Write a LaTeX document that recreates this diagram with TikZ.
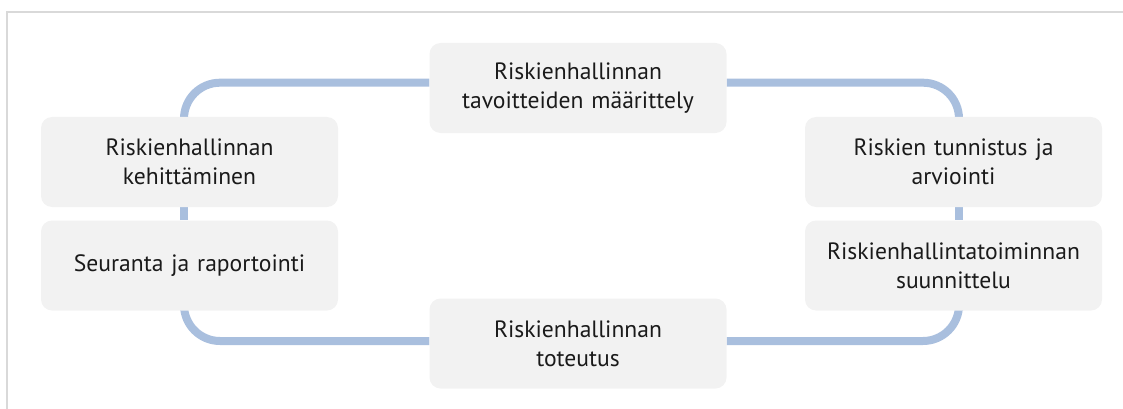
\documentclass[tikz,border=0pt]{standalone}
\usepackage{fontspec}
\setmainfont{PT Sans}
\usetikzlibrary{backgrounds}
\definecolor{boxfill}{HTML}{F2F2F2}
\definecolor{linecol}{HTML}{A9BFDE}
\definecolor{framecol}{HTML}{D9D9D9}
\definecolor{txt}{HTML}{1A1A1A}
\tikzset{
  stepbox/.style={rectangle, rounded corners=11pt, fill=boxfill, minimum width=297pt, minimum height=90pt, text width=290pt, align=center, inner sep=0pt, text=txt, font=\fontsize{23.6}{29}\selectfont},
  conn/.style={draw=linecol, line width=8pt, rounded corners=36pt},
  frame/.style={draw=framecol, line width=1.5pt}
}
\begin{document}
\begin{tikzpicture}[x=1pt,y=-1pt]
\useasboundingbox (0,0) rectangle (1123,409);
\coordinate (f0) at (7,409);
\coordinate (f1) at (7,12);
\coordinate (f2) at (1123,12);
\draw[frame] (f0) -- (f1) -- (f2);
\coordinate (tl) at (184,82.7);
\coordinate (tr) at (959,82.7);
\coordinate (br) at (959,341);
\coordinate (bl) at (184,341);
\node[stepbox] (top) at (578,88) {Riskienhallinnan\\tavoitteiden määrittely};
\node[stepbox] (lt) at (189.5,162) {Riskienhallinnan\\kehittäminen};
\node[stepbox] (lb) at (189.5,265.5) {Seuranta ja raportointi};
\node[stepbox] (rt) at (953.5,162) {Riskien tunnistus ja\\arviointi};
\node[stepbox] (rb) at (953.5,265.5) {Riskienhallintatoiminnan\\suunnittelu};
\node[stepbox] (bot) at (578,343.5) {Riskienhallinnan\\toteutus};
\begin{scope}[on background layer]
\draw[conn] (top.west |- tl) -| (lt.north -| tl);
\draw[conn] (top.east |- tr) -| (rt.north -| tr);
\draw[conn] (rt.south -| tr) -- (rb.north -| tr);
\draw[conn] (rb.south -| br) |- (bot.east |- br);
\draw[conn] (bot.west |- bl) -| (lb.south -| bl);
\draw[conn] (lb.north -| bl) -- (lt.south -| bl);
\end{scope}
\end{tikzpicture}
\end{document}
